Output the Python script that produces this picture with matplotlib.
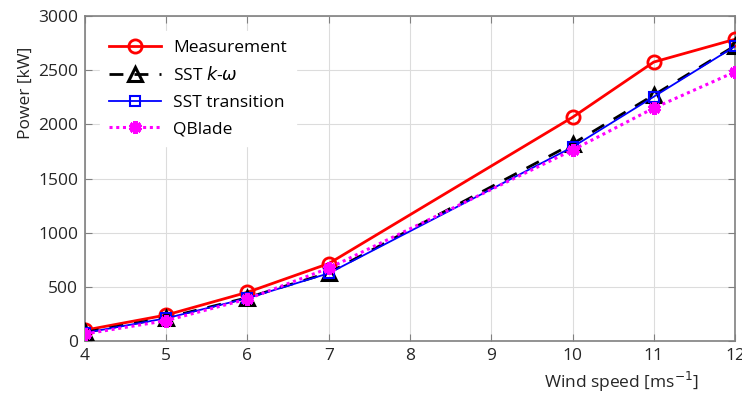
import matplotlib.pyplot as plt

plt.rcParams['font.family'] = ['Open Sans', 'DejaVu Sans']

wind = [4, 5, 6, 7, 10, 11, 12]
measurement = [100, 240, 450, 715, 2065, 2575, 2785]
sst_kw = [80, 215, 400, 630, 1820, 2270, 2725]
sst_trans = [75, 210, 395, 625, 1790, 2255, 2720]
qblade = [65, 188, 388, 672, 1762, 2150, 2484]

x_ticks = [4, 5, 6, 7, 8, 9, 10, 11, 12]
y_ticks = [0, 500, 1000, 1500, 2000, 2500, 3000]


def main():
	fig = plt.figure(figsize=(7.42, 3.94), dpi=100)
	ax = fig.add_axes([85 / 742, 1 - 341 / 394, 650 / 742, 325 / 394])

	ax.plot(wind, measurement, color='red', lw=2, marker='o', ms=9.5,
		mfc='none', mew=2, label='Measurement', zorder=3)
	ax.plot(wind, sst_kw, color='black', lw=2, ls=(0, (5, 4)), marker='^', ms=9.5,
		mfc='none', mew=2.2, label=r'SST $k$-$\omega$', zorder=4)
	ax.plot(wind, sst_trans, color='blue', lw=1.3, marker='s', ms=7.5,
		mfc='none', mew=1.5, label='SST transition', zorder=5)
	ax.plot(wind, qblade, color='magenta', lw=2.2, ls=(0, (1, 1.2)), marker=(6, 2, 0),
		ms=9, mew=3.5, mec='magenta', label='QBlade', zorder=6)

	ax.set_xlim(4, 12)
	ax.set_ylim(0, 3000)
	ax.set_xticks(x_ticks)
	ax.set_yticks(y_ticks)
	ax.grid(True, color='#dcdcdc', lw=0.8)
	ax.set_axisbelow(True)
	for s in ax.spines.values():
		s.set_color('#808080')
		s.set_linewidth(1.2)
	ax.tick_params(direction='in', colors='#808080', labelcolor='#262626',
		labelsize=12.5, length=5, top=True, right=True, pad=5)

	ax.set_xlabel('Wind speed [ms$^{-1}$]', fontsize=12.5, color='#262626')
	ax.xaxis.set_label_coords(0.825, -0.088)
	ax.set_ylabel('Power [kW]', fontsize=12.5, color='#262626')
	ax.yaxis.set_label_coords(-0.078, 0.763)

	leg = ax.legend(loc='upper left', bbox_to_anchor=(0.01, 0.98), fontsize=12.5,
		handlelength=3.0, handletextpad=0.7, labelspacing=0.6, frameon=True,
		fancybox=False, framealpha=1, edgecolor='white', borderpad=0.5)
	leg.set_zorder(10)

	fig.savefig('out.png', dpi=100)


if __name__ == '__main__':
	main()
